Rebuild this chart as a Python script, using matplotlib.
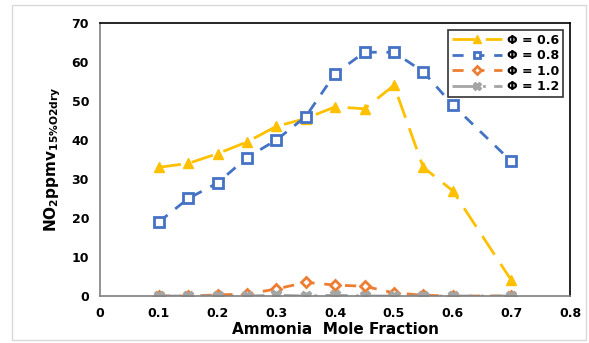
import matplotlib.pyplot as plt
from matplotlib.patches import Rectangle

x = [0.1, 0.15, 0.2, 0.25, 0.3, 0.35, 0.4, 0.45, 0.5, 0.55, 0.6, 0.7]
phi_06 = [33, 34, 36.5, 39.5, 43.5, 45.5, 48.5, 48, 54, 33, 27, 4]
phi_08 = [19, 25, 29, 35.5, 40, 46, 57, 62.5, 62.5, 57.5, 49, 34.5]
phi_10 = [0, 0, 0.3, 0.5, 1.8, 3.5, 2.8, 2.5, 0.8, 0.2, 0, 0]
phi_12 = [0, 0, 0, 0, 0.2, 0, 0.2, 0, 0, 0, 0, 0]
labels = ['Φ = 0.6', 'Φ = 0.8', 'Φ = 1.0', 'Φ = 1.2']

fig = plt.figure(figsize=(5.89, 3.43), dpi=100)
fig.patches.append(Rectangle((0.02, 0.01), 0.975, 0.975, transform=fig.transFigure,
                             fill=False, edgecolor='#d9d9d9', lw=1))
ax = fig.add_axes([0.170, 0.137, 0.798, 0.796])

ax.plot(x, phi_06, color='#FFC000', lw=2, dashes=(8, 4), marker='^', ms=7.5,
        mfc='#FFC000', mec='#FFC000', label=labels[0])
ax.plot(x, phi_08, color='#4472C4', lw=2, dashes=(4, 3.5), marker='s', ms=7,
        mfc='white', mec='#4472C4', mew=2, label=labels[1])
ax.plot(x, phi_10, color='#ED7D31', lw=2, dashes=(4, 3.5), marker='D', ms=5.5,
        mfc='white', mec='#ED7D31', mew=2, label=labels[2])
ax.plot(x, phi_12, color='#A5A5A5', lw=2, dashes=(8, 3, 1, 3), marker='X', ms=7.5,
        mfc='#A5A5A5', mec='#A5A5A5', label=labels[3])

ax.set_xlim(0, 0.8)
ax.set_ylim(0, 70)
ax.set_xticks([0, 0.1, 0.2, 0.3, 0.4, 0.5, 0.6, 0.7, 0.8])
ax.set_xticklabels(['0', '0.1', '0.2', '0.3', '0.4', '0.5', '0.6', '0.7', '0.8'])
ax.set_yticks(range(0, 71, 10))
ax.tick_params(length=0, labelsize=9, pad=8)
for t in ax.get_xticklabels() + ax.get_yticklabels():
    t.set_fontweight('bold')

for s in ['left', 'bottom']:
    ax.spines[s].set_color('#808080')
    ax.spines[s].set_linewidth(1.2)
for s in ['top', 'right']:
    ax.spines[s].set_color('black')
    ax.spines[s].set_linewidth(1.2)

ax.set_xlabel('Ammonia  Mole Fraction', fontsize=11, fontweight='bold', labelpad=1)
ax.set_ylabel(r'NO$_\mathbf{2}$ppmv$_\mathbf{15\%O2dry}$', fontsize=11,
              fontweight='bold', labelpad=6)

leg = ax.legend(loc='upper right', bbox_to_anchor=(0.998, 0.998),
                prop={'weight': 'bold', 'size': 9}, frameon=True, fancybox=False,
                handlelength=4, borderpad=0.3, labelspacing=0.2, handletextpad=0.4,
                markerscale=0.7)
leg.get_frame().set_edgecolor('black')
leg.get_frame().set_linewidth(1.2)

fig.savefig('out.png', dpi=100)
